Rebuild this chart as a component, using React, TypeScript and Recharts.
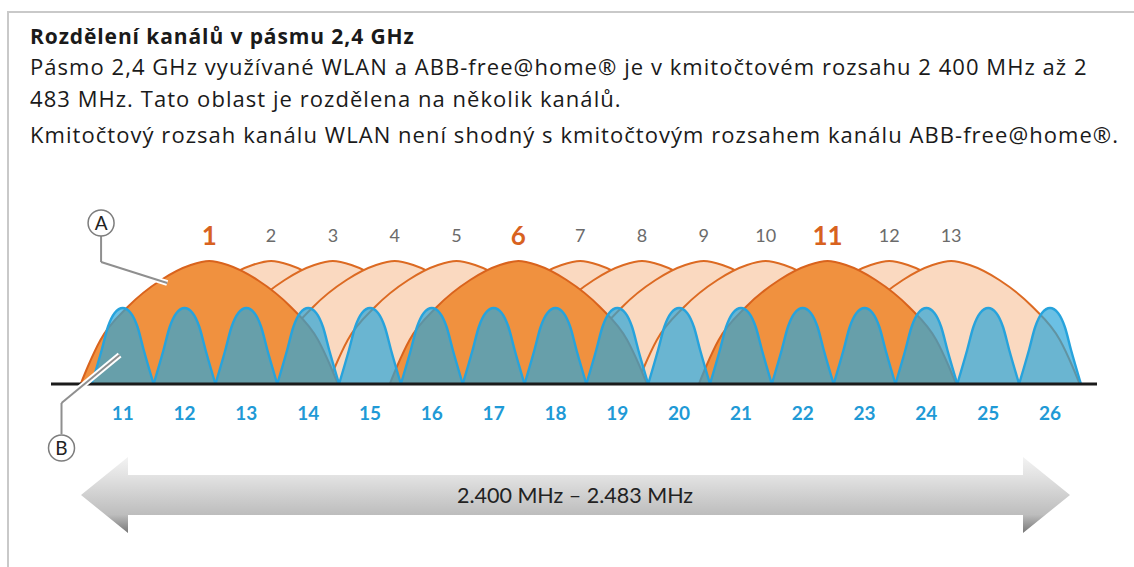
import { Area, ComposedChart, ReferenceDot, ReferenceLine, XAxis, YAxis } from "recharts";

// WLAN channels (top) and ABB-free@home / Zigbee channels (bottom), centre frequency in MHz
const wlanChannels = [1, 2, 3, 4, 5, 6, 7, 8, 9, 10, 11, 12, 13];
const wlanCentersMHz = [2412, 2417, 2422, 2427, 2432, 2437, 2442, 2447, 2452, 2457, 2462, 2467, 2472];
const wlanNonOverlapping = [1, 6, 11];

const zigbeeChannels = [11, 12, 13, 14, 15, 16, 17, 18, 19, 20, 21, 22, 23, 24, 25, 26];
const zigbeeCentersMHz = [2405, 2410, 2415, 2420, 2425, 2430, 2435, 2440, 2445, 2450, 2455, 2460, 2465, 2470, 2475, 2480];

// outline of one channel: offset from centre (MHz) and level
const wlanShapeOffsets = [-10.4, -9.8, -8.8, -6.6, -3.9, -1.5, 0, 1.5, 3.9, 6.6, 8.8, 9.8, 10.4];
const wlanShapeLevels = [0, 18, 44, 77, 104, 119, 123, 119, 104, 77, 44, 18, 0];
const zigbeeShapeOffsets = [-2.5, -1.7, -1.2, -0.65, 0, 0.65, 1.2, 1.7, 2.5];
const zigbeeShapeLevels = [0, 34, 57, 71, 76, 71, 57, 34, 0];

const X_DOMAIN: [number, number] = [2399.2, 2483.8];

// callouts A (WLAN) and B (free@home)
const calloutA = { circle: { mhz: 2403.25, level: 161 }, line: [{ x: 2403.25, y: 148 }, { x: 2403.25, y: 122 }, { x: 2408.6, y: 101 }] };
const calloutB = { circle: { mhz: 2400.05, level: -64 }, line: [{ x: 2400.05, y: -50 }, { x: 2400.05, y: -19 }, { x: 2404.75, y: 29 }] };

function shape(center: number, offsets: number[], levels: number[]) {
  return offsets.map((o, i) => ({ mhz: center + o, level: levels[i] }));
}

function WlanTick(props: any) {
  const { x, y, payload } = props;
  const idx = wlanCentersMHz.indexOf(payload.value);
  const ch = wlanChannels[idx];
  const main = wlanNonOverlapping.includes(ch);
  return (
    <text
      x={x}
      y={y - 19}
      textAnchor="middle"
      dominantBaseline="central"
      fontFamily="Lato"
      fontSize={main ? 26 : 18}
      fontWeight={main ? 700 : 400}
      fill={main ? "#D8621F" : "#6b6b6b"}
    >
      {ch}
    </text>
  );
}

function ZigbeeTick(props: any) {
  const { x, y, payload } = props;
  const idx = zigbeeCentersMHz.indexOf(payload.value);
  return (
    <text x={x} y={y + 28} textAnchor="middle" dominantBaseline="central" fontFamily="Lato" fontSize={19} fontWeight={700} fill="#1F9AD6">
      {zigbeeChannels[idx]}
    </text>
  );
}

const bodyLine = { position: "absolute" as const, lineHeight: "26px", fontSize: 22, letterSpacing: 1.05 };

export default function App() {
  const lightWlan = wlanChannels.filter((ch) => !wlanNonOverlapping.includes(ch));
  const solidWlan = wlanChannels.filter((ch) => wlanNonOverlapping.includes(ch));
  const callouts = [
    { c: calloutA, letter: "A" },
    { c: calloutB, letter: "B" },
  ];

  return (
    <div style={{ position: "absolute", left: 0, top: 0, width: 1134, height: 567, background: "#fff", overflow: "hidden" }}>
      <div
        style={{
          position: "absolute",
          left: 7,
          top: 11,
          width: 1127,
          height: 556,
          borderTop: "2px solid #c9c9c9",
          borderLeft: "2px solid #c9c9c9",
          boxSizing: "border-box",
        }}
      />
      <div style={{ position: "absolute", left: 30, top: 0, fontFamily: "'Open Sans'", color: "#1a1a1a", whiteSpace: "nowrap" }}>
        <div style={{ position: "absolute", top: 23, lineHeight: "26px", fontSize: 21, fontWeight: 700, letterSpacing: 0.9 }}>
          Rozdělení kanálů v pásmu 2,4 GHz
        </div>
        <div style={{ ...bodyLine, top: 53 }}>
          Pásmo 2,4 GHz využívané WLAN a ABB-free@home® je v kmitočtovém rozsahu 2 400 MHz až 2
        </div>
        <div style={{ ...bodyLine, top: 85 }}>483 MHz. Tato oblast je rozdělena na několik kanálů.</div>
        <div style={{ ...bodyLine, top: 121 }}>
          Kmitočtový rozsah kanálu WLAN není shodný s kmitočtovým rozsahem kanálu ABB-free@home®.
        </div>
      </div>

      <svg width={1134} height={567} style={{ position: "absolute", left: 0, top: 0 }}>
        <defs>
          <linearGradient id="arrowGrad" gradientUnits="userSpaceOnUse" x1="0" y1="457" x2="0" y2="533">
            <stop offset="0" stopColor="#f3f3f3" />
            <stop offset="0.24" stopColor="#e3e3e3" />
            <stop offset="0.76" stopColor="#bdbdbd" />
            <stop offset="1" stopColor="#777" />
          </linearGradient>
        </defs>
        <polygon
          points="81,495 128,457 128,475 1023,475 1023,457 1070,495 1023,533 1023,515 128,515 128,533"
          fill="url(#arrowGrad)"
        />
        <text x={575} y={495} textAnchor="middle" dominantBaseline="central" fontFamily="Lato" fontSize={21.5} fill="#222">
          2.400 MHz – 2.483 MHz
        </text>
      </svg>

      <div style={{ position: "absolute", left: 0, top: 0 }}>
        <ComposedChart width={1134} height={567} margin={{ top: 224, right: 37, bottom: 143, left: 51 }}>
          <XAxis
            xAxisId="wlan"
            orientation="top"
            dataKey="mhz"
            type="number"
            domain={X_DOMAIN}
            ticks={wlanCentersMHz}
            interval={0}
            height={30}
            axisLine={false}
            tickLine={false}
            tickSize={0}
            tickMargin={0}
            tick={(p: any) => <WlanTick {...p} />}
          />
          <XAxis
            xAxisId="zb"
            dataKey="mhz"
            type="number"
            domain={X_DOMAIN}
            ticks={zigbeeCentersMHz}
            interval={0}
            height={40}
            axisLine={false}
            tickLine={false}
            tickSize={0}
            tickMargin={0}
            tick={(p: any) => <ZigbeeTick {...p} />}
          />
          <YAxis hide type="number" domain={[0, 130]} />

          {lightWlan.map((ch) => (
            <Area
              key={`w${ch}`}
              xAxisId="wlan"
              data={shape(wlanCentersMHz[ch - 1], wlanShapeOffsets, wlanShapeLevels)}
              dataKey="level"
              type="monotone"
              stroke="#DC6A22"
              strokeWidth={2}
              fill="#FAD9C0"
              fillOpacity={1}
              dot={false}
              activeDot={false}
              isAnimationActive={false}
            />
          ))}
          {solidWlan.map((ch) => (
            <Area
              key={`w${ch}`}
              xAxisId="wlan"
              data={shape(wlanCentersMHz[ch - 1], wlanShapeOffsets, wlanShapeLevels)}
              dataKey="level"
              type="monotone"
              stroke="#D9631D"
              strokeWidth={2}
              fill="#F0913F"
              fillOpacity={1}
              dot={false}
              activeDot={false}
              isAnimationActive={false}
            />
          ))}
          {zigbeeCentersMHz.map((c, i) => (
            <Area
              key={`z${zigbeeChannels[i]}`}
              xAxisId="zb"
              data={shape(c, zigbeeShapeOffsets, zigbeeShapeLevels)}
              dataKey="level"
              type="monotone"
              stroke="#27A3DC"
              strokeWidth={2.4}
              fill="#2CA5D8"
              fillOpacity={0.7}
              dot={false}
              activeDot={false}
              isAnimationActive={false}
            />
          ))}

          <ReferenceLine xAxisId="zb" y={0} stroke="#1b1b1b" strokeWidth={3} />

          {callouts.map(({ c, letter }) =>
            [0, 1].map((s) => (
              <ReferenceLine
                key={`halo${letter}${s}`}
                xAxisId="zb"
                segment={[c.line[s], c.line[s + 1]]}
                stroke="#ffffff"
                strokeWidth={6}
                ifOverflow="visible"
              />
            ))
          )}
          {callouts.map(({ c, letter }) =>
            [0, 1].map((s) => (
              <ReferenceLine
                key={`lead${letter}${s}`}
                xAxisId="zb"
                segment={[c.line[s], c.line[s + 1]]}
                stroke="#8f8f8f"
                strokeWidth={2}
                ifOverflow="visible"
              />
            ))
          )}
          {callouts.map(({ c, letter }) => (
            <ReferenceDot
              key={`dot${letter}`}
              xAxisId="zb"
              x={c.circle.mhz}
              y={c.circle.level}
              r={13}
              fill="#ffffff"
              stroke="#7d7d7d"
              strokeWidth={1.5}
              ifOverflow="visible"
              label={{ value: letter, position: "center", fontSize: 19, fill: "#222", fontFamily: "Lato" }}
            />
          ))}
        </ComposedChart>
      </div>
    </div>
  );
}
